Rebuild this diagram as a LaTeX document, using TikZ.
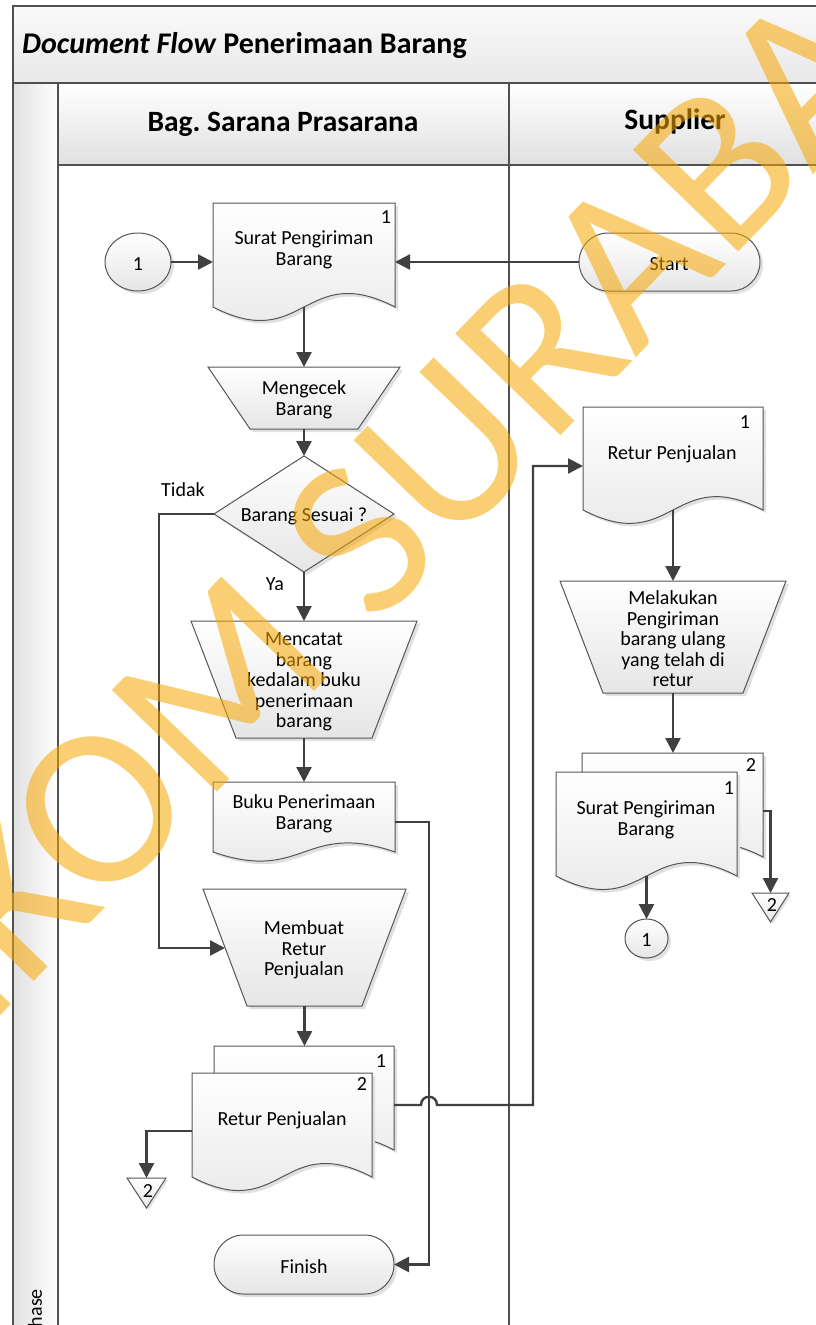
\documentclass[tikz,border=0pt]{standalone}
\usepackage{fontspec}
\setmainfont{Carlito}
\usetikzlibrary{arrows.meta,calc}
\pgfdeclarelayer{lanes}
\pgfdeclarelayer{shapes}
\pgfsetlayers{lanes,shapes,main}
\definecolor{ln}{RGB}{64,64,64}
\definecolor{ol}{RGB}{85,85,85}
\definecolor{fr}{RGB}{80,80,80}
\definecolor{wm}{RGB}{247,166,0}
\tikzset{
  conn/.style={draw=ln, line width=2.4pt, -{Triangle[length=15pt,width=15pt]}},
  shp/.style={draw=ol, line width=1pt, top color=white, bottom color=black!10},
  shd/.style={fill=black!12, draw=none},
  box/.style={draw=none, rectangle, inner sep=0pt, outer sep=0pt},
  txt/.style={font=\fontsize{20}{20.5}\selectfont, align=center, inner sep=0pt, yshift=-2pt},
  hdr/.style={font=\fontsize{29.5}{32}\selectfont\bfseries, inner sep=0pt},
  frm/.style={draw=fr, line width=1.6pt},
}
\newcommand{\mkdoc}[4]{%
  \path[shd, shift={(3,3)}] (#1,#4) -- (#1,#3) -- (#2,#3) -- (#2,#4) .. controls ({(#1+#2)/2},{#4-0.45*(#4-#3)}) and ({(#1+#2)/2},{#4+0.45*(#4-#3)}) .. (#1,#4) -- cycle;
  \path[shp] (#1,#4) -- (#1,#3) -- (#2,#3) -- (#2,#4) .. controls ({(#1+#2)/2},{#4-0.45*(#4-#3)}) and ({(#1+#2)/2},{#4+0.45*(#4-#3)}) .. (#1,#4) -- cycle;
}
\newcommand{\mktrap}[5]{%
  \path[shd, shift={(3,3)}] (#1,#3) -- (#2,#3) -- ({#2-#5},#4) -- ({#1+#5},#4) -- cycle;
  \path[shp] (#1,#3) -- (#2,#3) -- ({#2-#5},#4) -- ({#1+#5},#4) -- cycle;
}
\newcommand{\mkterm}[5]{%
  \path[shd, shift={(3,3)}, rounded corners=#5] (#1,#3) rectangle (#2,#4);
  \path[shp, rounded corners=#5] (#1,#3) rectangle (#2,#4);
}
\newcommand{\mktri}[4]{%
  \path[shd, shift={(2,2)}] (#1,#3) -- (#2,#3) -- ({(#1+#2)/2},#4) -- cycle;
  \path[shp] (#1,#3) -- (#2,#3) -- ({(#1+#2)/2},#4) -- cycle;
}
\newcommand{\mkell}[4]{%
  \path[shd, shift={(3,3)}] (#1,#2) ellipse [x radius=#3, y radius=#4];
  \path[shp] (#1,#2) ellipse [x radius=#3, y radius=#4];
}
\begin{document}
\begin{tikzpicture}[x=1pt,y=-1pt]
\useasboundingbox (0,0) rectangle (816,1325);
% ---------- lanes ----------
\begin{pgfonlayer}{lanes}
\fill[white] (0,0) rectangle (816,1325);
\path[frm, top color=black!2, bottom color=black!9] (13,6) rectangle (840,83);
\path[frm, top color=white, bottom color=black!12] (58,83) rectangle (509,165);
\path[frm, top color=white, bottom color=black!12] (509,83) rectangle (840,165);
\path[frm, left color=black!12, right color=white] (13,83) rectangle (58,1345);
\draw[frm] (58,165) -- (58,1345);
\draw[frm] (509,165) -- (509,1345);
\end{pgfonlayer}
% ---------- shapes ----------
\begin{pgfonlayer}{shapes}
\mkell{138}{262}{33}{29}
\mkdoc{213}{395}{203}{307}
\mktrap{208}{400}{367}{429}{42}
\path[shd, shift={(3,3)}] (304,456) -- (394,514) -- (304,572) -- (214,514) -- cycle;
\path[shp] (304,456) -- (394,514) -- (304,572) -- (214,514) -- cycle;
\mktrap{191}{417}{621}{738}{45}
\mkdoc{213}{395}{782}{852}
\mktrap{203}{406}{889}{1006}{44}
\mkdoc{214}{394}{1046}{1150}
\mkdoc{192}{372}{1073}{1177}
\mktri{127}{166}{1178}{1208}
\mkterm{214}{394}{1235}{1294}{29.5pt}
\mkterm{579}{760}{233}{291}{29pt}
\mkdoc{583}{763}{407}{510}
\mktrap{560}{786}{581}{693}{43}
\mkdoc{582}{763}{753}{857}
\mkdoc{556}{737}{772}{876}
\mkell{646.5}{938.5}{21.5}{19.5}
\mktri{752}{789}{893}{922}
\end{pgfonlayer}
% ---------- headers ----------
\node[anchor=west, inner sep=0pt, font=\fontsize{30}{32}\selectfont\bfseries] (ttl) at (22,46) {\textit{Document Flow} Penerimaan Barang};
\node[hdr] (h1) at (283,124) {Bag.\ Sarana Prasarana};
\node[hdr] (h2) at (675,121) {Supplier};
\node[txt, rotate=90, anchor=east] (ph) at (35,1287) {Phase};
% ---------- nodes: Bag. Sarana Prasarana ----------
\node[box, minimum width=66pt, minimum height=58pt] (c1) at (138,262) {};
\node[txt] (c1t) at (138,262) {1};
\node[box, minimum width=182pt, minimum height=104pt] (d1) at (304,255) {};
\node[txt] (d1t) at (304,248) {Surat Pengiriman\\Barang};
\node[txt] (d1n) at (386,215) {1};
\node[box, minimum width=192pt, minimum height=62pt] (mgk) at (304,398) {};
\node[txt] (mgkt) at (304,398) {Mengecek\\Barang};
\node[box, minimum width=180pt, minimum height=116pt] (dec) at (304,514) {};
\node[txt] (dect) at (304,514) {Barang Sesuai ?};
\node[txt] (tdk) at (183,488) {Tidak};
\node[txt] (ya) at (275,582) {Ya};
\node[box, minimum width=226pt, minimum height=117pt] (mct) at (304,679.5) {};
\node[txt] (mctt) at (304,680) {Mencatat\\barang\\kedalam buku\\penerimaan\\barang};
\node[box, minimum width=182pt, minimum height=70pt] (bk) at (304,817) {};
\node[txt] (bkt) at (304,812) {Buku Penerimaan\\Barang};
\node[box, minimum width=203pt, minimum height=117pt] (mb) at (304.5,947.5) {};
\node[txt] (mbt) at (304,948) {Membuat\\Retur\\Penjualan};
\node[box, minimum width=180pt, minimum height=104pt] (rpb) at (304,1098) {};
\node[txt] (rpbn) at (381,1059) {1};
\node[box, minimum width=180pt, minimum height=104pt] (rpf) at (282,1125) {};
\node[txt] (rpfn) at (362,1082) {2};
\node[txt] (rpft) at (282,1118) {Retur Penjualan};
\node[box, minimum width=39pt, minimum height=30pt] (t2b) at (146.5,1193) {};
\node[txt] (t2bt) at (148,1189) {2};
\node[box, minimum width=180pt, minimum height=59pt] (fin) at (304,1264.5) {};
\node[txt] (fint) at (304,1265) {Finish};
% ---------- nodes: Supplier ----------
\node[box, minimum width=181pt, minimum height=58pt] (st) at (669.5,262) {};
\node[txt] (stt) at (669,262) {Start};
\node[box, minimum width=180pt, minimum height=103pt] (r2) at (673,458.5) {};
\node[txt] (r2t) at (672,452) {Retur Penjualan};
\node[txt] (r2n) at (745,420) {1};
\node[box, minimum width=226pt, minimum height=112pt] (mlk) at (673,637) {};
\node[txt] (mlkt) at (673,637) {Melakukan\\Pengiriman\\barang ulang\\yang telah di\\retur};
\node[box, minimum width=181pt, minimum height=104pt] (spb) at (672.5,805) {};
\node[txt] (spbn) at (751,763) {2};
\node[box, minimum width=181pt, minimum height=104pt] (spf) at (646.5,824) {};
\node[txt] (spfn) at (729,786) {1};
\node[txt] (spft) at (646,818) {Surat Pengiriman\\Barang};
\node[box, minimum width=43pt, minimum height=39pt] (c2) at (646.5,938.5) {};
\node[txt] (c2t) at (646.5,938.5) {1};
\node[box, minimum width=37pt, minimum height=29pt] (t2a) at (770.5,907.5) {};
\node[txt] (t2at) at (772,903) {2};
% ---------- connectors ----------
\coordinate (tk) at (159,948);
\coordinate (mbin) at (225,948);
\coordinate (fk) at (429,1264.5);
\coordinate (jx) at (429,1105);
\coordinate (rr) at (533,1105);
\draw[conn] (c1.east) -- (c1.east -| d1.west);
\draw[conn] (st.west) -- (st.west -| d1.east);
\draw[conn] (d1.south) -- (mgk.north);
\draw[conn] (mgk.south) -- (dec.north);
\draw[conn] (dec.south) -- (mct.north);
\draw[conn] (mct.south) -- (bk.north);
\draw[conn] (dec.west) -| (tk) -- (mbin);
\draw[conn] ([yshift=-5pt]bk.east) -| (fk) -- (fin.east);
\draw[conn] (mb.south) -- (mb.south |- rpb.north);
\draw[conn] ([yshift=-6pt]rpf.west) -| (t2b.north);
\draw[conn] ([yshift=-7pt]rpb.east) -- ([xshift=-8pt]jx) .. controls ([shift={(-8,-11)}]jx) and ([shift={(8,-11)}]jx) .. ([xshift=8pt]jx) -- (rr) |- ([yshift=-7.5pt]r2.west);
\draw[conn] (r2.south) -- (mlk.north);
\draw[conn] (mlk.south) -- (mlk.south |- spb.north);
\draw[conn] (spf.south) -- (c2.north);
\draw[conn] ([yshift=-6pt]spb.east) -| (t2a.north);
% ---------- watermark ----------
\node[rotate=46, text=wm, text opacity=0.55, inner sep=0pt, font=\fontsize{228}{228}\selectfont] (wmk) at (390,508) {STIKOM SURABAYA};
\end{tikzpicture}
\end{document}
